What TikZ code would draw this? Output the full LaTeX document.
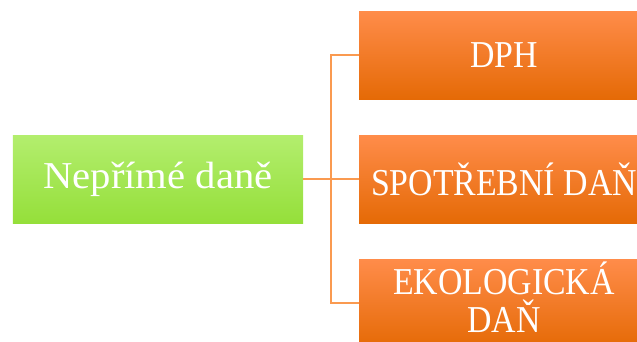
\documentclass[tikz,border=0pt]{standalone}
\usepackage{fontspec}
\setmainfont{Liberation Serif}
\newfontfamily\greenfont[FakeStretch=1.07]{Liberation Serif}
\newfontfamily\orangefont[FakeStretch=0.89]{Liberation Serif}
\definecolor{gtop}{HTML}{B3EE6E}
\definecolor{gmid}{HTML}{A6EA45}
\definecolor{gbot}{HTML}{95DF3A}
\definecolor{otop}{HTML}{FF8C4A}
\definecolor{omid}{HTML}{FB7F1F}
\definecolor{obot}{HTML}{E56A06}
\definecolor{conn}{HTML}{FA9A50}
\begin{document}
\begin{tikzpicture}[x=1bp,y=-1bp,
  gbox/.style={rectangle, inner sep=0pt, minimum width=290bp, minimum height=88bp,
    top color=gtop, middle color=gmid, bottom color=gbot, text=white,
    font=\greenfont\fontsize{38bp}{38bp}\selectfont, align=center},
  obox/.style={rectangle, inner sep=0pt, minimum width=290bp, minimum height=88bp,
    top color=otop, middle color=omid, bottom color=obot, text=white,
    font=\orangefont\fontsize{38bp}{38bp}\selectfont, align=center},
  link/.style={draw=conn, line width=1.5bp}]
\useasboundingbox (0,0) rectangle (637,341);
\node[gbox] (g) at (158,179) {Nepřímé daně};
\node[obox] (o1) at (504,55) {DPH};
\node[obox] (o2) at (504,179) {SPOTŘEBNÍ DAŇ};
\node[obox, text depth=12bp] (o3) at (504,303) {EKOLOGICKÁ\\DAŇ};
\coordinate (j) at (331,179);
\draw[link] (g.east) -- (j);
\draw[link] (j) |- (o1.west);
\draw[link] (j) |- (o3.west);
\draw[link] (j) -- (o2.west);
\end{tikzpicture}
\end{document}
